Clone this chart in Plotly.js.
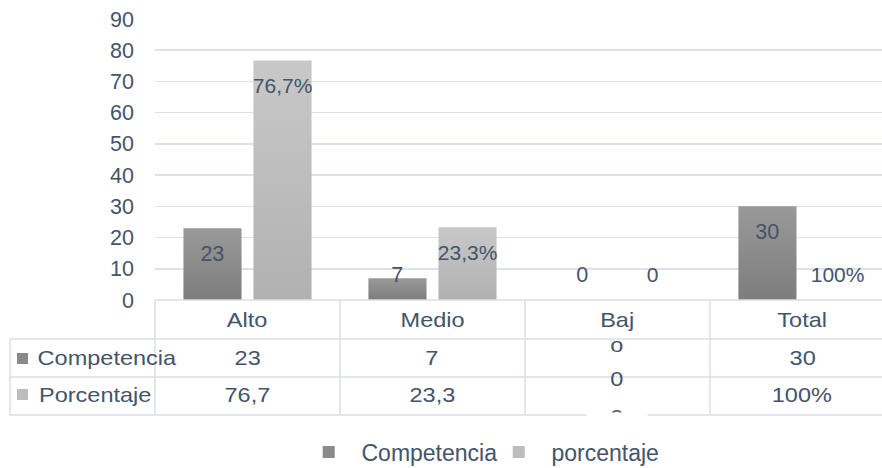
<!DOCTYPE html>
<html>
<head>
<meta charset="utf-8">
<script src="https://cdn.plot.ly/plotly-3.0.1.min.js"></script>
<style>
  html, body { margin: 0; padding: 0; background: #ffffff; }
  #chart { width: 882px; height: 468px; }
</style>
</head>
<body>
<div id="chart"></div>
<script>
// ---- data ----
const categories = ["Alto", "Medio", "Bajo", "Total"];
const competencia = [23, 7, 0, 30];
const porcentaje = [76.7, 23.3, 0, 0];
const competenciaLabels = ["23", "7", "0", "30"];
const porcentajeLabels = ["76,7%", "23,3%", "0", "100%"];
const tablaCompetencia = ["23", "7", "0", "30"];
const tablaPorcentaje = ["76,7", "23,3", "0", "100%"];
const seriesNames = ["Competencia", "porcentaje"];
const rowNames = ["Competencia", "Porcentaje"];
const yTicks = [0, 10, 20, 30, 40, 50, 60, 70, 80, 90];

// ---- style / layout ----
const TXT = "#44546a";
const FONT = "Liberation Sans, Arial, sans-serif";
const GRID = "#dde1e8";
const C1 = "#8a8a8a", C2 = "#bdbdbd";
const xs = categories.map((_, i) => i);
const xr = [-0.5, 3.43];
const OFF = 0.19;
const PL = 155, PT = 19, PB = 300, W = 882, H = 468;
const yp = py => (PB - py) / (PB - PT);          // pixel y -> paper y
const xpPix = px => (px - PL) / (W - PL);          // pixel x -> paper x
const xpCat = b => (b - xr[0]) / (xr[1] - xr[0]); // category coord -> paper x

const labelY = v => Math.max(v - 8.8, 7.6);

const traces = [
  { type: "bar", name: "\u00a0\u00a0" + seriesNames[0], x: xs, y: competencia,
    marker: { color: C1 }, hoverinfo: "skip" },
  { type: "bar", name: "\u00a0\u00a0" + seriesNames[1], x: xs, y: porcentaje,
    marker: { color: C2 }, hoverinfo: "skip" },
  { type: "scatter", mode: "text", showlegend: false, hoverinfo: "skip",
    x: xs.map(i => i - OFF), y: competencia.map(labelY), text: competenciaLabels,
    textfont: { family: FONT, size: 21.5, color: TXT }, cliponaxis: false },
  { type: "scatter", mode: "text", showlegend: false, hoverinfo: "skip",
    x: xs.map(i => i + OFF), y: porcentaje.map(labelY), text: porcentajeLabels,
    textfont: { family: FONT, size: 21, color: TXT }, cliponaxis: false }
];

// ---- data table (shapes + annotations) ----
const LC = "#dadfe6";
const rowY = [300, 339, 377, 415];
const shapes = [];
const line = (x0, y0, x1, y1) => shapes.push({ type: "line", xref: "paper", yref: "paper",
  x0, y0, x1, y1, line: { color: LC, width: 1.5 }, layer: "above" });
line(xpCat(-0.5), yp(rowY[0]), 1, yp(rowY[0]));
for (let r = 1; r < rowY.length; r++) line(xpPix(10), yp(rowY[r]), 1, yp(rowY[r]));
line(xpPix(10), yp(rowY[1]), xpPix(10), yp(rowY[3]));
[-0.5, 0.5, 1.5, 2.5].forEach(b => line(xpCat(b), yp(rowY[0]), xpCat(b), yp(rowY[3])));
// small series keys in the table
[[353, C1], [389, C2]].forEach(([py, c]) => shapes.push({ type: "rect", xref: "paper", yref: "paper",
  x0: xpPix(17), x1: xpPix(28), y0: yp(py), y1: yp(py + 11), fillcolor: c, line: { width: 0 }, layer: "above" }));

const ann = [];
const txt = (x, xref, py, text, extra) => ann.push(Object.assign({ x, xref, y: yp(py), yref: "paper",
  text, showarrow: false, font: { family: FONT, size: 21, color: TXT }, xanchor: "center", yanchor: "middle" }, extra || {}));

categories.forEach((c, i) => {
  if (c === "Bajo") {
    txt(i, "x", 319, "Baj");
    txt(i, "x", 344, "o");
    txt(i, "x", 379, tablaCompetencia[i]);
    txt(i, "x", 416, tablaPorcentaje[i]);
  } else {
    txt(i, "x", 319, c);
    txt(i, "x", 357, tablaCompetencia[i]);
    txt(i, "x", 394, tablaPorcentaje[i]);
  }
});
// cell clipping of the overflowing value
ann.push({ x: 2, xref: "x", y: yp(411.5), yref: "paper", yanchor: "top", text: "\u00a0", showarrow: false,
  width: 60, height: 14, bgcolor: "#ffffff", borderpad: 0, font: { size: 10 } });
txt(xpPix(43), "paper", 357, rowNames[0], { xanchor: "left" });
txt(xpPix(43), "paper", 394, rowNames[1], { xanchor: "left" });

const layout = {
  width: W, height: H,
  margin: { l: PL, r: 0, t: PT, b: H - PB },
  paper_bgcolor: "#ffffff", plot_bgcolor: "#ffffff",
  barmode: "group", bargap: 0.243, bargroupgap: 0.17,
  font: { family: FONT, color: TXT },
  xaxis: { range: xr, showticklabels: false, showgrid: false, zeroline: false, showline: false, ticks: "" },
  yaxis: { range: [0, 90], tickvals: yTicks, showgrid: true, gridcolor: GRID, gridwidth: 1.5,
    zeroline: false, showline: false, ticks: "", ticklabelstandoff: 20,
    tickfont: { family: FONT, size: 21.5, color: TXT } },
  showlegend: true,
  legend: { orientation: "h", xref: "container", yref: "container", x: 0.35, xanchor: "left",
    y: 0.034, yanchor: "middle", font: { family: FONT, size: 23, color: TXT },
    entrywidth: 145, entrywidthmode: "pixels", itemwidth: 30, bgcolor: "rgba(0,0,0,0)" },
  shapes, annotations: ann
};

Plotly.newPlot("chart", traces, layout, { staticPlot: true, displayModeBar: false }).then(gd => {
  const svg = gd.querySelector(".main-svg");
  const NS = "http://www.w3.org/2000/svg";
  // vertical gradients on the bars, like the original
  const defs = document.createElementNS(NS, "defs");
  [["gC", "#999999", "#7d7d7d"], ["gP", "#c8c8c8", "#b1b1b1"]].forEach(([id, a, b]) => {
    const g = document.createElementNS(NS, "linearGradient");
    g.setAttribute("id", id); g.setAttribute("x1", "0"); g.setAttribute("y1", "0");
    g.setAttribute("x2", "0"); g.setAttribute("y2", "1");
    [[0, a], [1, b]].forEach(([o, c]) => {
      const s = document.createElementNS(NS, "stop");
      s.setAttribute("offset", o); s.setAttribute("stop-color", c); g.appendChild(s);
    });
    defs.appendChild(g);
  });
  svg.insertBefore(defs, svg.firstChild);
  gd.querySelectorAll(".barlayer .trace").forEach((tr, k) => {
    tr.querySelectorAll("path").forEach(p => { p.style.fill = k === 0 ? "url(#gC)" : "url(#gP)"; });
  });
  // the table text in the original is slightly wider than plain Arial
  gd.querySelectorAll("text.annotation-text").forEach(t => {
    const x = parseFloat(t.getAttribute("x")) || 0;
    const prev = t.getAttribute("transform") || "";
    t.setAttribute("transform", prev + ` translate(${x},0) scale(1.12,1) translate(${-x},0)`);
  });
});
</script>
</body>
</html>
